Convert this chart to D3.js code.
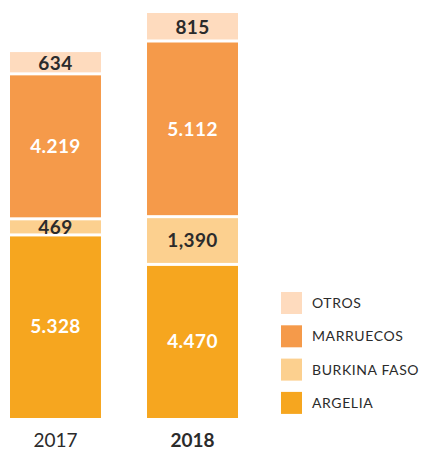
<!DOCTYPE html>
<html>
<head>
<meta charset="utf-8">
<script src="https://cdn.jsdelivr.net/npm/d3@7/dist/d3.min.js"></script>
<style>
  html, body { margin: 0; padding: 0; background: #fff; }
  svg { display: block; font-family: Lato, "Open Sans", sans-serif; }
</style>
</head>
<body>
<svg id="chart" width="423" height="450"></svg>
<script>
// Years on the x axis
const years = ["2017", "2018"];
// Stack order, bottom to top
const countries = ["ARGELIA", "BURKINA FASO", "MARRUECOS", "OTROS"];
// Values per year, same order as countries
const values2017 = [5328, 469, 4219, 634];
const values2018 = [4470, 1390, 5112, 815];
// Printed labels, as written on each segment
const labels2017 = ["5.328", "469", "4.219", "634"];
const labels2018 = ["4.470", "1,390", "5.112", "815"];
// Legend order, top to bottom
const legendOrder = ["OTROS", "MARRUECOS", "BURKINA FASO", "ARGELIA"];

const colors = {
  "ARGELIA": "#F6A61F",
  "BURKINA FASO": "#FCD08F",
  "MARRUECOS": "#F59A4A",
  "OTROS": "#FEDBBE"
};
const labelColors = {
  "ARGELIA": "#ffffff",
  "BURKINA FASO": "#2b2b2b",
  "MARRUECOS": "#ffffff",
  "OTROS": "#2b2b2b"
};

const rows = [
  Object.assign({ year: years[0] }, ...countries.map((c, i) => ({ [c]: values2017[i] }))),
  Object.assign({ year: years[1] }, ...countries.map((c, i) => ({ [c]: values2018[i] })))
];
const labelsByYear = { "2017": labels2017, "2018": labels2018 };

const svg = d3.select("#chart");

const x = d3.scaleBand().domain(years).range([10, 238]).paddingInner(0.336).paddingOuter(0);
const maxTotal = d3.max(rows, r => d3.sum(countries, c => r[c]));
const y = d3.scaleLinear().domain([0, maxTotal]).range([418, 13]);

const stack = d3.stack().keys(countries)(rows);
const gap = 1.5;

const layers = svg.append("g").selectAll("g")
  .data(stack)
  .join("g")
  .attr("fill", d => colors[d.key]);

layers.selectAll("rect")
  .data(d => d.map(p => Object.assign(p, { key: d.key })))
  .join("rect")
  .attr("x", d => x(d.data.year))
  .attr("width", x.bandwidth())
  .attr("y", d => y(d[1]) + (d.key === "OTROS" ? 0 : gap))
  .attr("height", d => y(d[0]) - y(d[1]) - (d.key === "OTROS" ? gap : 2 * gap) + (d.key === "ARGELIA" ? gap : 0));

// Segment value labels
layers.selectAll("text")
  .data(d => d)
  .join("text")
  .attr("x", d => x(d.data.year) + x.bandwidth() / 2)
  .attr("y", d => (y(d[0]) + y(d[1])) / 2)
  .attr("dy", "0.36em")
  .attr("text-anchor", "middle")
  .attr("font-weight", 700)
  .attr("font-size", 19)
  .attr("letter-spacing", "0.4")
  .attr("fill", d => labelColors[d.key])
  .text(d => labelsByYear[d.data.year][countries.indexOf(d.key)]);

// Year labels under the bars
const xAxis = d3.axisBottom(x).tickSize(0).tickPadding(0);
const ax = svg.append("g").attr("transform", "translate(0,433)").call(xAxis);
ax.select(".domain").remove();
ax.selectAll("text")
  .attr("font-family", "Lato, sans-serif")
  .attr("font-size", 19)
  .attr("fill", "#2b2b2b")
  .attr("font-weight", d => d === "2018" ? 700 : 400);

// Legend
const legend = svg.append("g").selectAll("g")
  .data(legendOrder)
  .join("g")
  .attr("transform", (d, i) => `translate(281,${292 + i * 33.3})`);
legend.append("rect")
  .attr("width", 21)
  .attr("height", 22)
  .attr("fill", d => colors[d]);
legend.append("text")
  .attr("x", 31)
  .attr("y", 11)
  .attr("dy", "0.36em")
  .attr("font-size", 14)
  .attr("letter-spacing", "0.6")
  .attr("fill", "#2b2b2b")
  .text(d => d);
</script>
</body>
</html>
